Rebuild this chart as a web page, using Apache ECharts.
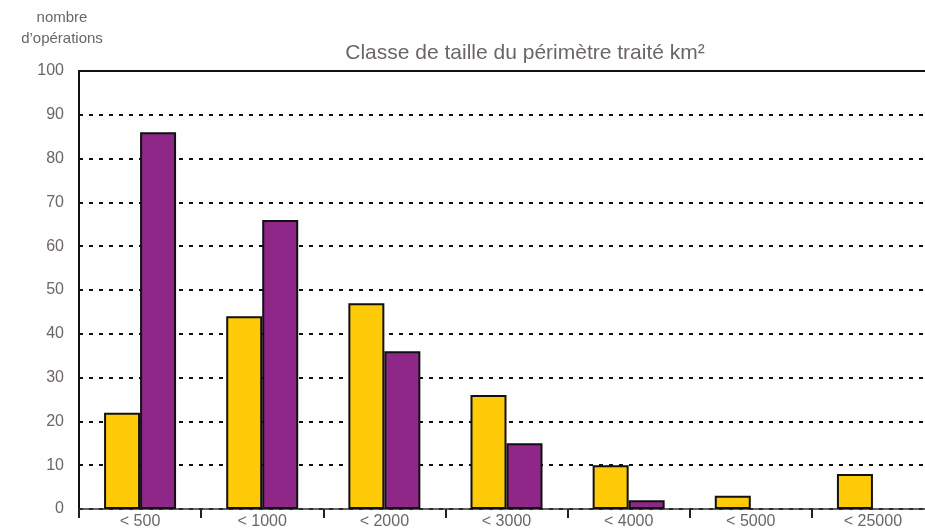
<!DOCTYPE html>
<html>
<head>
<meta charset="utf-8">
<script src="https://cdn.jsdelivr.net/npm/echarts@6/dist/echarts.min.js"></script>
<style>html,body{margin:0;padding:0;background:#fff;overflow:hidden}#c{width:940px;height:530px}</style>
</head>
<body>
<div id="c"></div>
<script>
var categories = ['< 500', '< 1000', '< 2000', '< 3000', '< 4000', '< 5000', '< 25000'];
var seriesYellow = [22, 44, 47, 26, 10, 3, 8];
var seriesPurple = [86, 66, 36, 15, 2, null, null];
var yTicks = {min: 0, max: 100, interval: 10};
var titleText = 'Classe de taille du périmètre traité km²';
var yName = 'nombre\nd\u2019opérations';

var FONT = '"Liberation Sans", Arial, sans-serif';
var GREY = '#6b6665';
var chart = echarts.init(document.getElementById('c'), null, {renderer: 'canvas'});
chart.setOption({
  animation: false,
  backgroundColor: '#fff',
  grid: {left: 79, top: 71, right: 6, bottom: 21},
  graphic: [
    {type: 'text', x: 525, y: 53, style: {text: titleText, fill: GREY, font: '21px ' + FONT, textAlign: 'center', textVerticalAlign: 'middle'}},
    {type: 'text', x: 62, y: 28, style: {text: yName, fill: GREY, font: '15px ' + FONT, textAlign: 'center', textVerticalAlign: 'middle', lineHeight: 21}}
  ],
  xAxis: [{
    type: 'category', data: categories, boundaryGap: true,
    axisLine: {show: true, lineStyle: {color: '#333', width: 1.5}},
    axisTick: {show: true, length: 9, alignWithLabel: false, lineStyle: {color: '#222', width: 2}},
    axisLabel: {color: GREY, fontSize: 16, fontFamily: FONT, margin: 5},
    splitLine: {show: false}
  }, {
    type: 'category', data: categories, position: 'top',
    axisLine: {show: true, lineStyle: {color: '#111', width: 2}},
    axisTick: {show: false}, axisLabel: {show: false}, splitLine: {show: false}
  }],
  yAxis: {
    type: 'value', min: yTicks.min, max: yTicks.max, interval: yTicks.interval,
    axisLine: {show: true, lineStyle: {color: '#111', width: 2}},
    axisTick: {show: false},
    axisLabel: {color: GREY, fontSize: 16, fontFamily: FONT, margin: 15},
    splitLine: {show: true, lineStyle: {color: '#111', width: 2, type: [4, 6]}}
  },
  series: [{
    type: 'bar', data: seriesYellow, barWidth: 36, barGap: '0%',
    itemStyle: {color: '#FFCB08', borderColor: '#111', borderWidth: 2}
  }, {
    type: 'bar', data: seriesPurple, barWidth: 36, barGap: '0%',
    itemStyle: {color: '#8E2787', borderColor: '#111', borderWidth: 2}
  }]
});
</script>
</body>
</html>
